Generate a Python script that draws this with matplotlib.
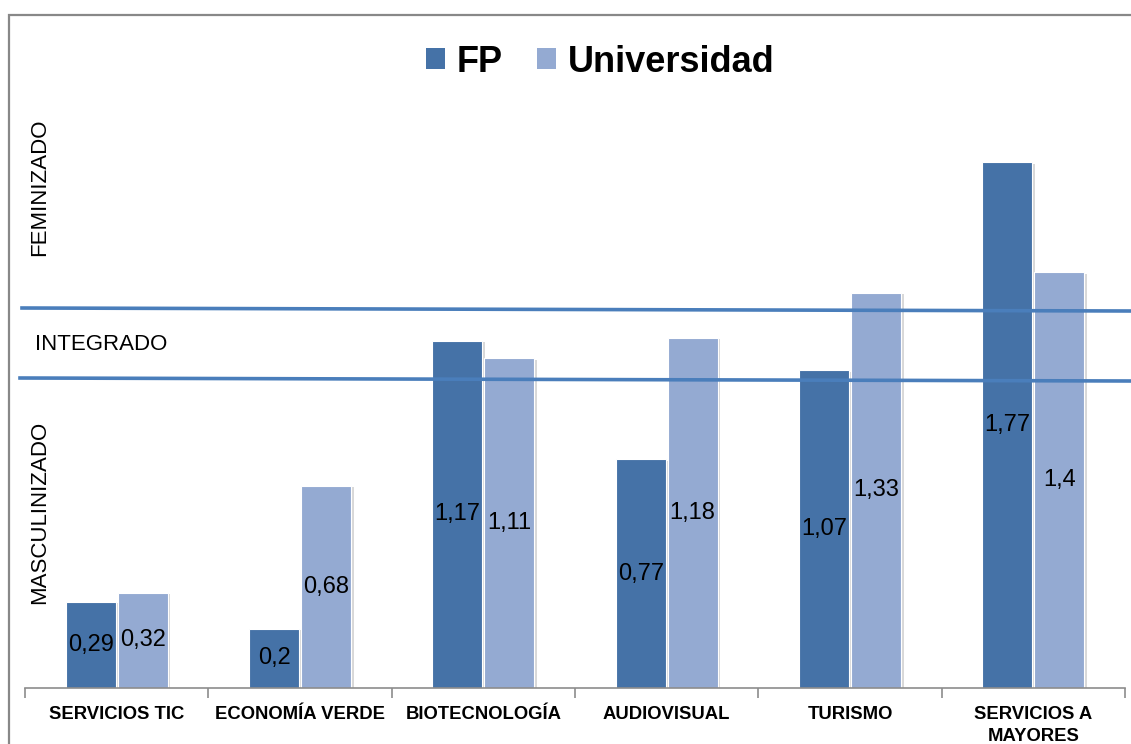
import matplotlib
matplotlib.use("Agg")
import matplotlib.pyplot as plt
import matplotlib.patheffects as pe
from matplotlib.lines import Line2D
from matplotlib.patches import Rectangle
import numpy as np

categories = ["SERVICIOS TIC", "ECONOMÍA VERDE", "BIOTECNOLOGÍA", "AUDIOVISUAL",
              "TURISMO", "SERVICIOS A\nMAYORES"]
fp_values = [0.29, 0.2, 1.17, 0.77, 1.07, 1.77]
uni_values = [0.32, 0.68, 1.11, 1.18, 1.33, 1.4]
fp_labels = ["0,29", "0,2", "1,17", "0,77", "1,07", "1,77"]
uni_labels = ["0,32", "0,68", "1,11", "1,18", "1,33", "1,4"]
series_names = ["FP", "Universidad"]

FP_COLOR = "#4572A7"
UNI_COLOR = "#94AAD2"
LINE_COLOR = "#4A7EBB"

plt.rcParams['font.family'] = ['Liberation Sans', 'DejaVu Sans']

W, H = 1131, 744
fig = plt.figure(figsize=(W / 100, H / 100), dpi=100)

def fx(px):
    return px / W

def fy(py):
    return 1 - py / H

ax = fig.add_axes([fx(25), fy(688), fx(1125) - fx(25), fy(94) - fy(688)])

x = np.arange(len(categories))
bw = 0.273
shadow = [pe.SimplePatchShadow(offset=(2, -1), shadow_rgbFace="#c8c8c8", alpha=0.7), pe.Normal()]
b1 = ax.bar(x - bw / 2 - 0.005, fp_values, bw, color=FP_COLOR, edgecolor="white",
            linewidth=0.8, label=series_names[0], zorder=2)
b2 = ax.bar(x + bw / 2 + 0.005, uni_values, bw, color=UNI_COLOR, edgecolor="white",
            linewidth=0.8, label=series_names[1], zorder=2)
for b in list(b1) + list(b2):
    b.set_path_effects(shadow)

for rect, lab in zip(b1, fp_labels):
    ax.text(rect.get_x() + rect.get_width() / 2, rect.get_height() / 2, lab,
            ha="center", va="center", fontsize=17, color="black", zorder=3)
for rect, lab in zip(b2, uni_labels):
    ax.text(rect.get_x() + rect.get_width() / 2, rect.get_height() / 2, lab,
            ha="center", va="center", fontsize=17, color="black", zorder=3)

ax.set_xlim(-0.5, len(categories) - 0.5)
ax.set_ylim(0, 2.0)
ax.set_yticks([])
for s in ["top", "right", "left"]:
    ax.spines[s].set_visible(False)
ax.spines["bottom"].set_color("#8c8c8c")
ax.spines["bottom"].set_linewidth(1.2)
ax.set_xticks(x)
ax.set_xticklabels(categories, fontsize=13.3, fontweight="bold", linespacing=1.4)
ax.tick_params(axis="x", length=0, pad=13)
ax.set_xticks(np.arange(-0.5, len(categories) + 0.5, 1), minor=True)
ax.tick_params(axis="x", which="minor", length=7, color="#8c8c8c", width=1.2)

# legend
leg = fig.legend(handles=[b1, b2], labels=series_names, loc="center",
                 bbox_to_anchor=(fx(600), fy(62)), ncol=2, frameon=False,
                 prop={"size": 26, "weight": "bold"}, handlelength=0.53, handleheight=0.53,
                 handletextpad=0.33, columnspacing=0.94)
for h in leg.legend_handles:
    h.set_path_effects([])
    h.set_edgecolor("none")

# zone lines
fig.add_artist(Line2D([fx(22), fx(1131)], [fy(308), fy(311)], color=LINE_COLOR, lw=2.6))
fig.add_artist(Line2D([fx(20), fx(1131)], [fy(378), fy(381)], color=LINE_COLOR, lw=2.6))

# zone labels
fig.text(fx(40), fy(187), "FEMINIZADO", rotation=90, ha="center", va="center", fontsize=16)
fig.text(fx(40), fy(512), "MASCULINIZADO", rotation=90, ha="center", va="center", fontsize=16)
fig.text(fx(35), fy(344), "INTEGRADO", ha="left", va="center", fontsize=16)

# outer border
fig.add_artist(Rectangle((fx(9), -0.1), 1.2, fy(15) + 0.1, transform=fig.transFigure,
                         fill=False, edgecolor="#888888", lw=1.6))

fig.savefig("out.png", dpi=100)
